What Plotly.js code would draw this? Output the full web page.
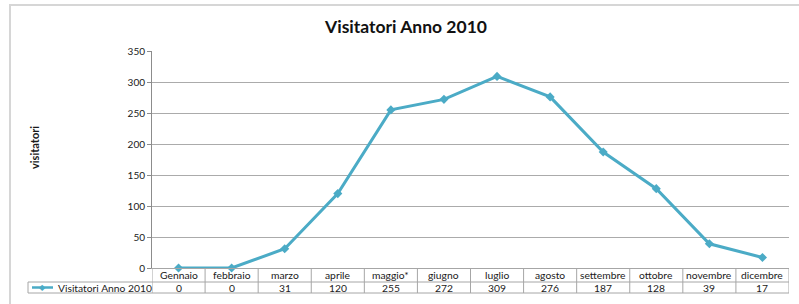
<!DOCTYPE html>
<html>
<head>
<meta charset="utf-8">
<script src="https://cdn.plot.ly/plotly-3.0.1.min.js"></script>
<style>html,body{margin:0;padding:0;background:#fff;}#chart{width:799px;height:304px;}</style>
</head>
<body>
<div id="chart"></div>
<script>
const months = ["Gennaio","febbraio","marzo","aprile","maggio*","giugno","luglio","agosto","settembre","ottobre","novembre","dicembre"];
const visitors = [0,0,31,120,255,272,309,276,187,128,39,17];
const seriesName = "Visitatori Anno 2010";
const yTicks = [0,50,100,150,200,250,300,350];

const W = 799, H = 304;
const L = 152, R = 10, T = 51, B = 36;
const pw = W - L - R, ph = H - T - B;
const px = X => (X - L) / pw;          // pixel -> paper x
const py = Y => (H - B - Y) / ph;      // pixel -> paper y

const lineColor = "#4babc6";
const gridColor = "#ababab";
const tableColor = "#a6a6a6";
const font = "Lato, 'Liberation Sans', sans-serif";
const textColor = "#1a1a1a";

const trace = {
  x: months, y: visitors, type: "scatter", mode: "lines+markers",
  name: seriesName,
  line: {color: lineColor, width: 3},
  marker: {symbol: "diamond", size: 7, color: lineColor},
  cliponaxis: false, showlegend: false
};

const shapes = [];
const annotations = [];

// outer chart frame
shapes.push({type:"rect", xref:"paper", yref:"paper", x0:px(10), x1:px(812), y0:py(5), y1:py(320),
  line:{color:"#d6d6d6", width:2}, layer:"below"});

// table horizontal lines
shapes.push({type:"line", xref:"paper", yref:"paper", x0:px(28), x1:1, y0:py(282), y1:py(282), line:{color:tableColor, width:1}});
shapes.push({type:"line", xref:"paper", yref:"paper", x0:px(28), x1:1, y0:py(293), y1:py(293), line:{color:tableColor, width:1}});
shapes.push({type:"line", xref:"paper", yref:"paper", x0:px(28), x1:px(28), y0:py(282), y1:py(293), line:{color:tableColor, width:1}});
// table vertical lines (category boundaries)
for (let i = 0; i <= months.length; i++) {
  shapes.push({type:"line", xref:"x", yref:"paper", x0:i-0.5, x1:i-0.5, y0:0, y1:py(293), line:{color:tableColor, width:1}});
}
// legend key in table
shapes.push({type:"line", xref:"paper", yref:"paper", x0:px(32), x1:px(53), y0:py(287.5), y1:py(287.5), line:{color:lineColor, width:2.5}});

annotations.push({xref:"paper", yref:"paper", x:px(42.5), y:py(287.5), text:"◆", showarrow:false,
  font:{family:"DejaVu Sans", size:8, color:lineColor}, xanchor:"center", yanchor:"middle"});
annotations.push({xref:"paper", yref:"paper", x:px(56), y:py(287.5), text:seriesName, showarrow:false,
  font:{family:font, size:10.3, color:textColor}, xanchor:"left", yanchor:"middle"});

months.forEach((m, i) => {
  annotations.push({xref:"x", yref:"paper", x:m, y:py(275), text:m, showarrow:false,
    font:{family:font, size:10.3, color:textColor}, xanchor:"center", yanchor:"middle"});
  annotations.push({xref:"x", yref:"paper", x:m, y:py(288), text:String(visitors[i]), showarrow:false,
    font:{family:font, size:10.3, color:textColor}, xanchor:"center", yanchor:"middle"});
});

// y axis title
annotations.push({xref:"paper", yref:"paper", x:px(34), y:py(148), text:"<b>visitatori</b>", showarrow:false,
  textangle:-90, font:{family:font, size:11, color:textColor}, xanchor:"center", yanchor:"middle"});

const layout = {
  width: W, height: H,
  margin: {l:L, r:R, t:T, b:B, pad:0},
  paper_bgcolor: "#fff", plot_bgcolor: "#fff",
  title: {text:"<b>Visitatori Anno 2010</b>", xref:"container", yref:"container",
    x: 406/W, y: 1 - 27/H, xanchor:"center", yanchor:"middle",
    font:{family:font, size:17.5, color:"#111"}},
  xaxis: {type:"category", range:[-0.5, months.length-0.5], showticklabels:false,
    showgrid:false, zeroline:false, showline:true, linecolor:tableColor, linewidth:1,
    ticks:"", fixedrange:true},
  yaxis: {range:[0,350], tickvals:yTicks, ticktext:yTicks.map(String), showgrid:true, gridcolor:gridColor, gridwidth:1,
    zeroline:false, showline:true, linecolor:"#8c8c8c", linewidth:1, ticks:"outside", ticklen:4, tickcolor:"#8c8c8c",
    tickfont:{family:font, size:10, color:textColor}, fixedrange:true},
  shapes: shapes, annotations: annotations, showlegend:false
};

Plotly.newPlot("chart", [trace], layout, {displayModeBar:false, staticPlot:true});
</script>
</body>
</html>
